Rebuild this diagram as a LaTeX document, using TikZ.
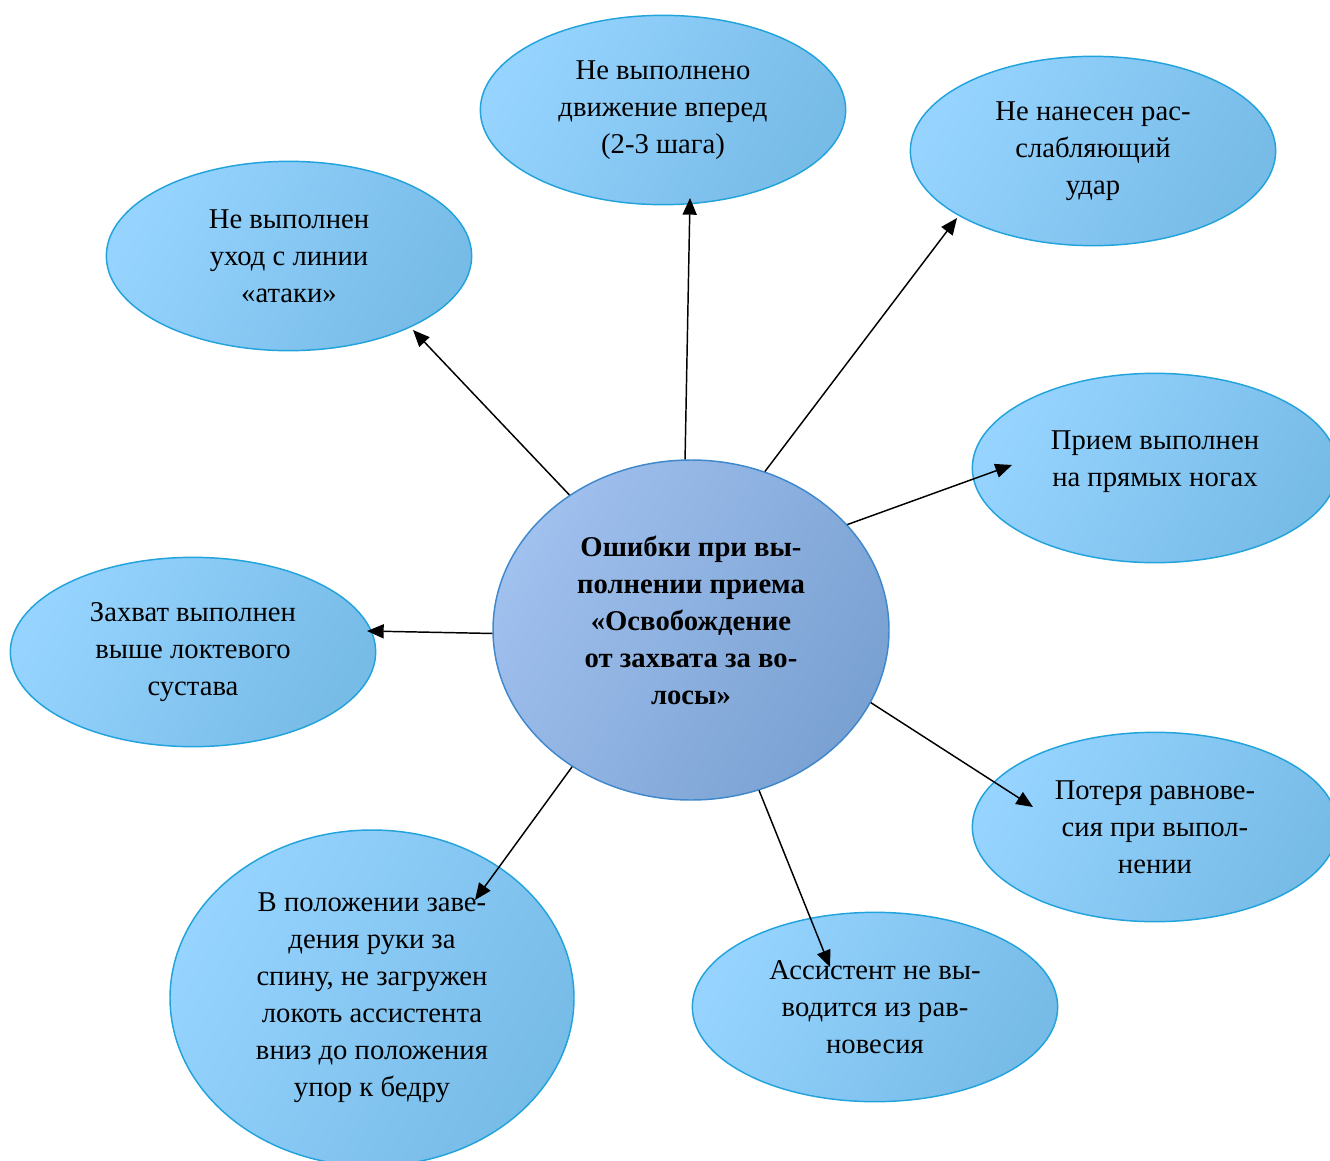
\documentclass[tikz,border=0pt]{standalone}
\usepackage{fontspec}
\setmainfont{Liberation Serif}
\usepackage{xcolor}
\usepackage{tikz}
\usetikzlibrary{arrows.meta,shapes.geometric}
\definecolor{SkyLight}{HTML}{96D4FF}
\definecolor{SkyDark}{HTML}{77BBE7}
\definecolor{SkyEdge}{HTML}{22A3DC}
\definecolor{CoreLight}{HTML}{A0C0EE}
\definecolor{CoreDark}{HTML}{79A1D2}
\definecolor{CoreEdge}{HTML}{3F88CC}

\begin{document}
\begin{tikzpicture}[x=0.75pt,y=-0.75pt,>=Latex,
  mistake/.style={ellipse,draw=SkyEdge,line width=1.1pt,top color=SkyLight,bottom color=SkyDark,
    shading angle=60,minimum width=274pt,minimum height=142pt,align=center,inner sep=0pt,
    font=\fontsize{21.5pt}{27.7pt}\selectfont},
  core/.style={ellipse,draw=CoreEdge,line width=1.1pt,top color=CoreLight,bottom color=CoreDark,
    shading angle=60,minimum width=297pt,minimum height=255pt,align=center,inner sep=0pt,
    font=\fontsize{21.5pt}{27.7pt}\selectfont\bfseries},
  link/.style={-{Triangle[length=12.5pt,width=10.5pt]},line width=1.1pt,black}]
  \clip (0,0) rectangle (1330,1160);
  \node[core] (core) at (691,630) {Ошибки при вы-\\полнении приема\\«Освобождение\\от захвата за во-\\лосы»\rule[-15pt]{0pt}{0pt}};
  \node[mistake] (fwd) at (663,110) {Не выполнено\\движение вперед\\(2-3 шага)};
  \node[mistake] (blow) at (1093,151) {Не нанесен рас-\\слабляющий\\удар};
  \node[mistake] (dodge) at (289,256) {Не выполнен\\уход с линии\\«атаки»};
  \node[mistake] (legs) at (1155,468) {Прием выполнен\\на прямых ногах\rule[-14pt]{0pt}{0pt}};
  \node[mistake] (grip) at (193,652) {Захват выполнен\\выше локтевого\\сустава};
  \node[mistake] (balance) at (1155,827) {Потеря равнове-\\сия при выпол-\\нении};
  \node[mistake] (assist) at (875,1007) {Ассистент не вы-\\водится из рав-\\новесия};
  \node[mistake,minimum width=303pt,minimum height=252pt] (arm) at (372,998)
    {В положении заве-\\дения руки за\\спину, не загружен\\локоть ассистента\\вниз до положения\\упор к бедру};
  \draw[link] (core.92) -- ([shift={(27,88)}]fwd.center);
  \draw[link] (core.65) -- ([shift={(-136,67)}]blow.center);
  \draw[link] (core.132) -- ([shift={(124,74)}]dodge.center);
  \draw[link] (core.34) -- ([shift={(-143,-3)}]legs.center);
  \draw[link] (core.181) -- ([shift={(174,-21)}]grip.center);
  \draw[link] (core.-22) -- ([shift={(-122,-20)}]balance.center);
  \draw[link] (core.-67) -- ([shift={(-45,-40)}]assist.center);
  \draw[link] (core.-131) -- ([shift={(103,-98)}]arm.center);
\end{tikzpicture}
\end{document}
